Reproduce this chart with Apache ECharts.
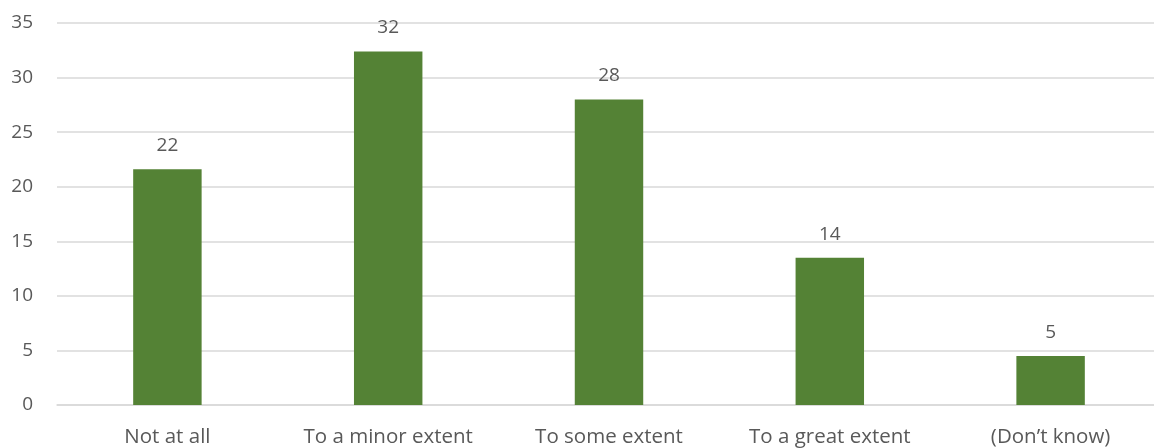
<!DOCTYPE html>
<html>
<head>
<meta charset="utf-8">
<script src="https://cdn.jsdelivr.net/npm/echarts@6/dist/echarts.min.js"></script>
<style>
  html, body { margin: 0; padding: 0; background: #ffffff; overflow: hidden; }
  /* the plot runs a few pixels past the right edge of the view */
  #chart { width: 1161px; height: 448px; }
</style>
</head>
<body>
<div id="chart"></div>
<script>
// Survey responses (percent of respondents)
const categories = ['Not at all', 'To a minor extent', 'To some extent', 'To a great extent', '(Don\u2019t know)'];
const shares = [21.6, 32.4, 28.0, 13.5, 4.5];
const yTicks = { min: 0, max: 35, step: 5 };

const textColor = '#595959';
const lineColor = '#d9d9d9';
const fontFamily = '"Open Sans", "Noto Sans", sans-serif';

const chart = echarts.init(document.getElementById('chart'), null, { renderer: 'canvas' });
chart.setOption({
  animation: false,
  backgroundColor: '#ffffff',
  grid: { left: 57, right: 0, top: 23, bottom: 43, containLabel: false },
  xAxis: {
    type: 'category',
    data: categories,
    axisLine: { show: true, lineStyle: { color: lineColor, width: 1.5 } },
    axisTick: { show: false },
    axisLabel: { color: textColor, fontSize: 20.5, fontFamily: fontFamily, margin: 22, interval: 0 }
  },
  yAxis: {
    type: 'value',
    min: yTicks.min,
    max: yTicks.max,
    interval: yTicks.step,
    axisLine: { show: false },
    axisTick: { show: false },
    splitLine: { lineStyle: { color: lineColor, width: 1.5 } },
    axisLabel: { color: textColor, fontSize: 19, fontFamily: fontFamily, margin: 24 }
  },
  series: [{
    type: 'bar',
    data: shares,
    barWidth: '31%',
    itemStyle: { color: '#548235' },
    label: {
      show: true,
      position: 'top',
      distance: 14,
      color: textColor,
      fontSize: 19,
      fontFamily: fontFamily,
      formatter: p => Math.round(p.value)
    }
  }]
});
</script>
</body>
</html>
